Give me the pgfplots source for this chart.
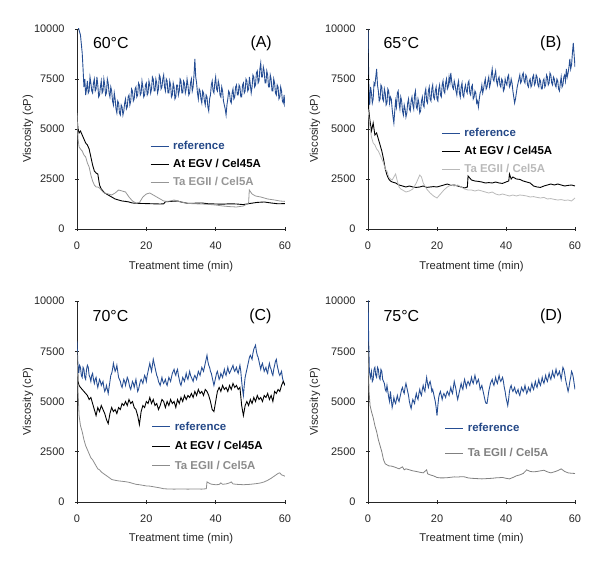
\documentclass[border=0pt]{standalone}
\usepackage{pgfplots}
\pgfplotsset{compat=1.18}
\usepackage{fontspec}
\setmainfont{Liberation Sans}
\definecolor{refblue}{RGB}{38,78,148}
\definecolor{reftext}{RGB}{36,72,135}
\definecolor{grayA}{RGB}{150,150,150}
\definecolor{grayB}{RGB}{185,185,185}
\definecolor{grayC}{RGB}{140,140,140}
\definecolor{grayD}{RGB}{128,128,128}
\pgfplotsset{
  myax/.style={
    scale only axis, width=208bp, height=200bp,
    xmin=0, xmax=60, ymin=0, ymax=10000,
    axis lines=left, axis line style={-, black!85, line width=0.6pt},
    xtick={0,20,40,60}, ytick={0,2500,5000,7500,10000},
    tick align=center, major tick length=4bp, tick style={black!85, line width=0.6pt},
    scaled y ticks=false,
    /pgf/number format/fixed, /pgf/number format/1000 sep={},
    /pgf/number format/assume math mode=true,
    ticklabel style={font=\fontsize{11}{13}\selectfont, text=black!85},
    xticklabel shift=7bp,
    yticklabel shift=7bp,
    label style={font=\fontsize{11.3}{13}\selectfont, text=black!85},
    xlabel={Treatment time (min)}, ylabel={Viscosity (cP)},
    legend style={draw=none, fill=none, inner sep=0pt, outer sep=0pt,
      font=\bfseries\fontsize{11.5}{13}\selectfont,
      nodes={inner sep=0pt, text height=8.5bp, text depth=2.5bp},
      cells={anchor=west}, column sep=4bp},
    legend image code/.code={\draw[#1] (0bp,0.5bp) -- (18bp,0.5bp);},
    legend cell align=left,
  },
  toprow/.style={xlabel style={at={(axis description cs:0.5,-0.19)}, anchor=center}},
  botrow/.style={xlabel style={at={(axis description cs:0.5,-0.18)}, anchor=center}},
  leftcol/.style={ylabel style={at={(axis description cs:-0.236,0.5)}, anchor=center}},
  rightcol/.style={ylabel style={at={(axis description cs:-0.256,0.5)}, anchor=center}},
  refl/.style={refblue, line width=0.9pt},
  egvl/.style={black, line width=0.9pt},
}
\begin{document}
\begin{tikzpicture}
\useasboundingbox (0,0) rectangle (600bp,570bp);
% ---------------- Panel A ----------------
\begin{axis}[myax, toprow, leftcol, at={(77bp,341bp)}, anchor=south west,
  legend style={at={(axis cs:21.1,4400)}, anchor=north west, row sep=7bp}]
\addplot[refl] coordinates {(0,10500)(0.5,10000)(1,9700)(1.5,8800)(1.75,8000)(2,7100)(2.25,7500)(2.5,6700)(2.75,7000)(3,7400)(3.25,6800)(3.5,6900)(3.75,7600)(4,7300)(4.25,6900)(4.5,6800)(4.75,7300)(5,7500)(5.25,6900)(5.5,7000)(5.75,7600)(6,7200)(6.25,6600)(6.5,6700)(6.75,7100)(7,7400)(7.25,6800)(7.5,6900)(7.75,7500)(8,7200)(8.25,6700)(8.5,6800)(8.75,7500)(9,7300)(9.25,6800)(9.5,6600)(9.75,7100)(10,6900)(10.25,6400)(10.5,6200)(10.75,6800)(11,6500)(11.25,6000)(11.5,5800)(11.75,6400)(12,6300)(12.25,5800)(12.5,5700)(12.75,6200)(13,6100)(13.25,5700)(13.5,5900)(13.75,6300)(14,6500)(14.25,6000)(14.5,6100)(14.75,6600)(15,6700)(15.25,6200)(15.5,6400)(15.75,7000)(16,6900)(16.25,6400)(16.5,6500)(16.75,7000)(17,7100)(17.25,6600)(17.5,6700)(17.75,7300)(18,7200)(18.25,6700)(18.5,6800)(18.75,7400)(19,7100)(19.25,6600)(19.5,6700)(19.75,7200)(20,7300)(20.25,6700)(20.5,6800)(20.75,7400)(21,7200)(21.25,6800)(21.5,7000)(21.75,7600)(22,7500)(22.25,6900)(22.5,6900)(22.75,7500)(23,7300)(23.25,6800)(23.5,7000)(23.75,7700)(24,7600)(24.25,7000)(24.5,7100)(24.75,7500)(25,7700)(25.25,7100)(25.5,6900)(25.75,7500)(26,7400)(26.25,6800)(26.5,6800)(26.75,7400)(27,7200)(27.25,6600)(27.5,6700)(27.75,7300)(28,7100)(28.25,6500)(28.5,6600)(28.75,7200)(29,7200)(29.25,6700)(29.5,6900)(29.75,7500)(30,7400)(30.25,6800)(30.5,6800)(30.75,7400)(31,7300)(31.25,6800)(31.5,7000)(31.75,7500)(32,7200)(32.25,6700)(32.5,6800)(32.75,7300)(33,7500)(33.25,6900)(33.5,7100)(33.75,7700)(34,8500)(34.25,7600)(34.5,7300)(34.75,6800)(35,6500)(35.25,7000)(35.5,6900)(35.75,6500)(36,6300)(36.25,6900)(36.5,6800)(36.75,6400)(37,6200)(37.25,6700)(37.5,6600)(37.75,6100)(38,5900)(38.25,6500)(38.5,6700)(38.75,7200)(39,7400)(39.25,6900)(39.5,6800)(39.75,7300)(40,7600)(40.25,7000)(40.5,6900)(40.75,7400)(41,7200)(41.25,6700)(41.5,6600)(41.75,7100)(42,6900)(42.25,6400)(42.5,6200)(42.75,6000)(43,5700)(43.25,6200)(43.5,6500)(43.75,6900)(44,6800)(44.25,6400)(44.5,6300)(44.75,6800)(45,7000)(45.25,6500)(45.5,6600)(45.75,7100)(46,7200)(46.25,6700)(46.5,6700)(46.75,7200)(47,7100)(47.25,6600)(47.5,6600)(47.75,7200)(48,7300)(48.25,6800)(48.5,6900)(48.75,7500)(49,7400)(49.25,6900)(49.5,7000)(49.75,7600)(50,7200)(50.25,6800)(50.5,7100)(50.75,7700)(51,7600)(51.25,7100)(51.5,7200)(51.75,7800)(52,7900)(52.25,7300)(52.5,7400)(52.75,8000)(53,8300)(53.25,7600)(53.5,7600)(53.75,8100)(54,7900)(54.25,7300)(54.5,7300)(54.75,7900)(55,7700)(55.25,7100)(55.5,7100)(55.75,7700)(56,7500)(56.25,6900)(56.5,6900)(56.75,7500)(57,7300)(57.25,6800)(57.5,6700)(57.75,7200)(58,7100)(58.25,6500)(58.5,6600)(58.75,7100)(59,6900)(59.25,6400)(59.5,6300)(59.75,6700)(60,6100)};
\addlegendentry{\textcolor{reftext}{reference}}
\addplot[egvl] coordinates {(0,5600)(0.3,5000)(0.6,4800)(1,4900)(1.5,4700)(2,4500)(2.5,4300)(3,4200)(3.5,4000)(4,3600)(4.5,3200)(5,2900)(5.5,2800)(6,2750)(6.5,2200)(7,2000)(7.5,1900)(8,1800)(9,1700)(10,1600)(11,1500)(12,1450)(13,1400)(14,1380)(15,1350)(16,1300)(18,1280)(20,1270)(22,1260)(24,1250)(25,1260)(25.5,1360)(27,1380)(29,1400)(30,1350)(32,1280)(34,1290)(36,1300)(38,1260)(40,1250)(42,1240)(44,1260)(46,1250)(48,1220)(50,1280)(52,1330)(54,1350)(56,1300)(58,1260)(60,1270)};
\addlegendentry{At EGV / Cel45A}
\addplot[grayA, line width=0.8pt] coordinates {(0,5800)(0.3,4500)(0.6,4100)(1,4000)(1.5,3900)(2,3700)(2.5,3600)(3,3300)(3.5,3100)(4,2700)(4.5,2400)(5,2200)(5.5,2100)(6,2100)(6.5,2050)(7,1950)(7.5,1850)(8,1800)(9,1750)(10,1700)(11,1800)(12,1950)(13,1900)(14,1850)(15,1600)(16,1400)(17,1300)(18,1320)(19,1600)(20,1750)(21,1800)(22,1700)(23,1600)(24,1500)(25,1400)(26,1380)(27,1400)(28,1450)(29,1400)(30,1350)(32,1280)(34,1260)(36,1250)(38,1230)(40,1200)(42,1150)(44,1120)(46,1100)(48,1150)(49.5,1300)(49.7,1950)(50.5,1750)(51.5,1650)(53,1600)(55,1500)(57,1450)(58.5,1400)(60,1380)};
\addlegendentry{\textcolor{grayA}{Ta EGII / Cel5A}}
\node[anchor=west, font=\fontsize{16}{18}\selectfont] at (axis cs:3.6,9300) {60°C};
\node[anchor=east, font=\fontsize{16}{18}\selectfont] at (axis cs:57.2,9300) {(A)};
\end{axis}
% ---------------- Panel B ----------------
\begin{axis}[myax, toprow, rightcol, width=207bp, at={(368bp,341bp)}, anchor=south west,
  legend style={at={(axis cs:21.3,5050)}, anchor=north west, row sep=7bp}]
\addplot[refl] coordinates {(0,10000)(0.25,7000)(0.5,6200)(0.75,7100)(1,6800)(1.25,6300)(1.5,6500)(1.75,7300)(2,7200)(2.25,7600)(2.5,8000)(2.75,7200)(3,6900)(3.25,6400)(3.5,6500)(3.75,7200)(4,7100)(4.25,6500)(4.5,6400)(4.75,7000)(5,6800)(5.25,6200)(5.5,6300)(5.75,7000)(6,6900)(6.25,6300)(6.5,6600)(6.75,6500)(7,6000)(7.25,5600)(7.5,5300)(7.75,5900)(8,6400)(8.25,6100)(8.5,6800)(8.75,6900)(9,6300)(9.25,6000)(9.5,6600)(9.75,6400)(10,5900)(10.25,5700)(10.5,6200)(10.75,6000)(11,5600)(11.25,5800)(11.5,6300)(11.75,6500)(12,6000)(12.25,5900)(12.5,6400)(12.75,6600)(13,6200)(13.25,6000)(13.5,6700)(13.75,6900)(14,6100)(14.25,6000)(14.5,6500)(14.75,6300)(15,5800)(15.25,5900)(15.5,6400)(15.75,6600)(16,6200)(16.25,6100)(16.5,6800)(16.75,7000)(17,6400)(17.25,6300)(17.5,6900)(17.75,7100)(18,6500)(18.25,6400)(18.5,7000)(18.75,7200)(19,6600)(19.25,6500)(19.5,6900)(19.75,7100)(20,6500)(20.25,6400)(20.5,7000)(20.75,7200)(21,6700)(21.25,6600)(21.5,7200)(21.75,7400)(22,6900)(22.25,6800)(22.5,7300)(22.75,7500)(23,7000)(23.25,7100)(23.5,7600)(23.75,7300)(24,7800)(24.25,7400)(24.5,7100)(24.75,7000)(25,7400)(25.25,7200)(25.5,6900)(25.75,6700)(26,7200)(26.25,7400)(26.5,6800)(26.75,6600)(27,7100)(27.25,7300)(27.5,6700)(27.75,6600)(28,7000)(28.25,7200)(28.5,6900)(28.75,6800)(29,7300)(29.25,7400)(29.5,6800)(29.75,6700)(30,7100)(30.25,7200)(30.5,6500)(30.75,6600)(31,6900)(31.25,6800)(31.5,6300)(31.75,6400)(32,6100)(32.25,6500)(32.5,6800)(32.75,6900)(33,7200)(33.25,6800)(33.5,7000)(33.75,7300)(34,7500)(34.25,7000)(34.5,7100)(34.75,7400)(35,7600)(35.25,7100)(35.5,7300)(35.75,7700)(36,8000)(36.25,7500)(36.5,7400)(36.75,7700)(37,7900)(37.25,7400)(37.5,7200)(37.75,7500)(38,7600)(38.25,7200)(38.5,7100)(38.75,7500)(39,7400)(39.25,6900)(39.5,7000)(39.75,7500)(40,7300)(40.25,7200)(40.5,7600)(40.75,7700)(41,7100)(41.25,7200)(41.5,7500)(41.75,7300)(42,6900)(42.25,6600)(42.5,6300)(42.75,6500)(43,6800)(43.25,7100)(43.5,7300)(43.75,7500)(44,7700)(44.25,7300)(44.5,7400)(44.75,7700)(45,7800)(45.25,7400)(45.5,7300)(45.75,7700)(46,7600)(46.25,7200)(46.5,7100)(46.75,7400)(47,7500)(47.25,7100)(47.5,7200)(47.75,7600)(48,7700)(48.25,7200)(48.5,7300)(48.75,7700)(49,7600)(49.25,7200)(49.5,7100)(49.75,7500)(50,7400)(50.25,7000)(50.5,7000)(50.75,7400)(51,7500)(51.25,7100)(51.5,7200)(51.75,7700)(52,7600)(52.25,7200)(52.5,7300)(52.75,7800)(53,7700)(53.25,7300)(53.5,7200)(53.75,7600)(54,7500)(54.25,7200)(54.5,7100)(54.75,7500)(55,7400)(55.25,7000)(55.5,6900)(55.75,7300)(56,7600)(56.25,7100)(56.5,7200)(56.75,7600)(57,7700)(57.25,7400)(57.5,8000)(57.75,7600)(58,7800)(58.25,8100)(58.5,8500)(58.75,8000)(59,8200)(59.25,8800)(59.5,9300)(59.75,8700)(60,8100)};
\addlegendentry{\textcolor{reftext}{reference}}
\addplot[egvl] coordinates {(0,9000)(0.2,6000)(0.5,5500)(1,4900)(1.5,5300)(2,4700)(2.5,4800)(3,4500)(3.5,4200)(4,3900)(4.5,3500)(5,3000)(5.5,2700)(6,2500)(6.5,2400)(7,2350)(8,2300)(9,2200)(10,2150)(11,2100)(12,2150)(13,2100)(14,2080)(15,2100)(16,2150)(17,2080)(18,2100)(19,2120)(20,2100)(21,2150)(22,2200)(23,2250)(24,2180)(25,2200)(26,2150)(27,2100)(28,2050)(28.8,2100)(29,2650)(30,2450)(31,2400)(32,2380)(33,2350)(34,2300)(35,2320)(36,2300)(37,2350)(38,2300)(39,2280)(40,2350)(40.8,2400)(41,2750)(41.5,2500)(42,2600)(43,2500)(44,2480)(45,2400)(46,2350)(47,2300)(48,2150)(49,2100)(50,2080)(51,2150)(52,2200)(53,2250)(54,2200)(55,2250)(56,2200)(57,2150)(58,2180)(59,2200)(60,2150)};
\addlegendentry{At EGV / Cel45A}
\addplot[grayB, line width=0.8pt] coordinates {(0,6000)(0.5,5200)(1,4600)(1.5,4300)(2,4200)(2.5,4000)(3,3900)(3.5,3700)(4,3500)(4.5,3300)(5,3000)(5.5,2900)(6,2600)(6.5,2500)(7,2450)(7.5,2600)(8,2750)(8.5,2400)(9,2100)(9.5,2000)(10,1950)(11,1850)(12,1900)(13,2000)(14,2300)(15,2700)(15.5,2600)(16,2300)(17,2000)(18,1800)(19,1650)(20,1550)(21,1750)(22,1950)(23,2100)(24,2200)(25,2150)(26,2200)(27,2100)(28,2000)(29,1950)(30,1950)(31,1900)(32,1950)(33,1900)(34,1850)(35,1800)(36,1850)(37,1750)(38,1700)(39,1750)(40,1700)(41,1650)(42,1700)(43,1650)(44,1700)(45,1680)(46,1650)(47,1600)(48,1620)(49,1580)(50,1550)(51,1580)(52,1500)(53,1520)(54,1480)(55,1450)(56,1470)(57,1430)(58,1450)(59,1400)(60,1550)};
\addlegendentry{\textcolor{grayB}{Ta EGII / Cel5A}}
\node[anchor=west, font=\fontsize{16}{18}\selectfont] at (axis cs:3.5,9300) {65°C};
\node[anchor=east, font=\fontsize{16}{18}\selectfont] at (axis cs:57.1,9300) {(B)};
\end{axis}
% ---------------- Panel C ----------------
\begin{axis}[myax, botrow, leftcol, height=201bp, at={(77bp,68bp)}, anchor=south west,
  legend style={at={(axis cs:21.6,4000)}, anchor=north west, row sep=8.5bp}]
\addplot[refl] coordinates {(0,8000)(0.25,6900)(0.5,6400)(0.75,6800)(1,6700)(1.25,6300)(1.5,6200)(1.75,6700)(2,6600)(2.25,6200)(2.5,6100)(2.75,6600)(3,6800)(3.25,6700)(3.5,6300)(3.75,6200)(4,6000)(4.25,6300)(4.5,6400)(4.75,6100)(5,5900)(5.25,6100)(5.5,6200)(5.75,5900)(6,5700)(6.25,5900)(6.5,6100)(6.75,6000)(7,5800)(7.25,5900)(7.5,6000)(7.75,5700)(8,5500)(8.25,5600)(8.5,5800)(8.75,5600)(9,5400)(9.25,5700)(9.5,6000)(9.75,6300)(10,6400)(10.25,6600)(10.5,6900)(10.75,6700)(11,6500)(11.25,6600)(11.5,6800)(11.75,6500)(12,6200)(12.25,6100)(12.5,6000)(12.75,5800)(13,5700)(13.25,5900)(13.5,6100)(13.75,6000)(14,5800)(14.25,6000)(14.5,6200)(14.75,6100)(15,5900)(15.25,5700)(15.5,5600)(15.75,5800)(16,6000)(16.25,5900)(16.5,5700)(16.75,5900)(17,6100)(17.25,5800)(17.5,5500)(17.75,5600)(18,5800)(18.25,6000)(18.5,6100)(18.75,6000)(19,5900)(19.25,6100)(19.5,6300)(19.75,6200)(20,6000)(20.25,6300)(20.5,6500)(20.75,6700)(21,6900)(21.25,6700)(21.5,6500)(21.75,6800)(22,7100)(22.25,6900)(22.5,6700)(22.75,6500)(23,6300)(23.25,6200)(23.5,6000)(23.75,5900)(24,5800)(24.25,6000)(24.5,6200)(24.75,6000)(25,5900)(25.25,6000)(25.5,6100)(25.75,5900)(26,5800)(26.25,6000)(26.5,6200)(26.75,6100)(27,6000)(27.25,6200)(27.5,6400)(27.75,6500)(28,6600)(28.25,6400)(28.5,6300)(28.75,6500)(29,6600)(29.25,6300)(29.5,6100)(29.75,5900)(30,5800)(30.25,6000)(30.5,6200)(30.75,6100)(31,6000)(31.25,6200)(31.5,6400)(31.75,6200)(32,6100)(32.25,6300)(32.5,6500)(32.75,6300)(33,6200)(33.25,6100)(33.5,6000)(33.75,6200)(34,6300)(34.25,6200)(34.5,6100)(34.75,6300)(35,6500)(35.25,6400)(35.5,6300)(35.75,6500)(36,6700)(36.25,6600)(36.5,6500)(36.75,6700)(37,6900)(37.25,7100)(37.5,7300)(37.75,7000)(38,6800)(38.25,6700)(38.5,6500)(38.75,6400)(39,6200)(39.25,6000)(39.5,5800)(39.75,6000)(40,6200)(40.25,6400)(40.5,6500)(40.75,6300)(41,6100)(41.25,6200)(41.5,6400)(41.75,6300)(42,6200)(42.25,6400)(42.5,6600)(42.75,6400)(43,6300)(43.25,6500)(43.5,6700)(43.75,6500)(44,6400)(44.25,6500)(44.5,6600)(44.75,6700)(45,6800)(45.25,6600)(45.5,6500)(45.75,6600)(46,6700)(46.25,6500)(46.5,6400)(46.75,6600)(47,6800)(47.25,6500)(47.5,6000)(47.75,5600)(48,5300)(48.25,5800)(48.5,6200)(48.75,6400)(49,6600)(49.25,6800)(49.5,7000)(49.75,7200)(50,7300)(50.25,7200)(50.5,7100)(50.75,7400)(51,7600)(51.25,7700)(51.5,7800)(51.75,7500)(52,7300)(52.25,7200)(52.5,7000)(52.75,6800)(53,6600)(53.25,6800)(53.5,6900)(53.75,6700)(54,6500)(54.25,6600)(54.5,6700)(54.75,6500)(55,6400)(55.25,6700)(55.5,6900)(55.75,6700)(56,6600)(56.25,6400)(56.5,6300)(56.75,6600)(57,6800)(57.25,7000)(57.5,7100)(57.75,6800)(58,6600)(58.25,6400)(58.5,6300)(58.75,6400)(59,6500)(59.25,6200)(59.5,6000)(59.75,5900)(60,5800)};
\addlegendentry{\textcolor{reftext}{reference}}
\addplot[egvl] coordinates {(0,7500)(0.3,6000)(0.6,5800)(1,5700)(1.5,5600)(2,5500)(2.5,5400)(3,5300)(3.5,5100)(4,5200)(4.5,4900)(5,4600)(5.5,4300)(6,4700)(6.5,4500)(7,4800)(7.5,4600)(8,4400)(8.5,4100)(9,3900)(9.5,4400)(10,4700)(10.5,4500)(11,4600)(11.5,4400)(12,4700)(12.5,4600)(13,4900)(13.5,4800)(14,5000)(14.5,4800)(15,5100)(15.5,4900)(16,5000)(16.5,4700)(17,4600)(17.5,4300)(18,3850)(18.5,4500)(19,4800)(19.5,4700)(20,5000)(20.5,4900)(21,5200)(21.5,4900)(22,5100)(22.5,4800)(23,4900)(23.5,4600)(24,4800)(24.5,5100)(25,5000)(25.5,4700)(26,5000)(26.5,4800)(27,5100)(27.5,4900)(28,5000)(28.5,4700)(29,5100)(29.5,4900)(30,5200)(30.5,5000)(31,5300)(31.5,5100)(32,5300)(32.5,5200)(33,5400)(33.5,5200)(34,5500)(34.5,5300)(35,5600)(35.5,5400)(36,5500)(36.5,5300)(37,5600)(37.5,5500)(38,5300)(38.5,5000)(39,4600)(39.5,4500)(40,5000)(40.5,5500)(41,5700)(41.5,5500)(42,5800)(42.5,5600)(43,5700)(43.5,5500)(44,5800)(44.5,5600)(45,5900)(45.5,5700)(46,5800)(46.5,5600)(47,5700)(47.5,4800)(48,4300)(48.5,4800)(49,5000)(49.5,4800)(50,5100)(50.5,4900)(51,5200)(51.5,5000)(52,5300)(52.5,5100)(53,5200)(53.5,5000)(54,5300)(54.5,5200)(55,5400)(55.5,5100)(56,5300)(56.5,5000)(57,5500)(57.5,5400)(58,5600)(58.5,5500)(59,5800)(59.5,6000)(60,5800)};
\addlegendentry{At EGV / Cel45A}
\addplot[grayC, line width=0.8pt] coordinates {(0,7500)(0.3,5500)(0.6,4300)(1,3800)(1.5,3500)(2,3100)(2.5,2800)(3,2600)(3.5,2400)(4,2200)(4.5,2100)(5,1950)(5.5,1800)(6,1650)(6.5,1600)(7,1500)(7.5,1430)(8,1370)(9,1250)(10,1120)(11,1080)(12,1050)(13,1030)(14,1010)(15,980)(16,930)(17,880)(18,860)(19,830)(20,800)(21,790)(22,760)(23,730)(24,700)(25,660)(26,650)(28,640)(30,650)(32,640)(34,650)(36,640)(37.3,660)(37.5,1000)(38,950)(38.5,900)(39,880)(40,860)(41,870)(41.5,950)(42,880)(43,900)(44,950)(44.5,1000)(45,900)(46,880)(47,870)(48,860)(49,870)(50,880)(51,900)(52,920)(53,950)(54,1000)(55,1080)(56,1180)(57,1300)(58,1420)(58.5,1450)(59,1350)(59.5,1320)(60,1280)};
\addlegendentry{\textcolor{grayC}{Ta EGII / Cel5A}}
\node[anchor=west, font=\fontsize{16}{18}\selectfont] at (axis cs:3.5,9250) {70°C};
\node[anchor=east, font=\fontsize{16}{18}\selectfont] at (axis cs:57.1,9250) {(C)};
\end{axis}
% ---------------- Panel D ----------------
\begin{axis}[myax, botrow, rightcol, width=207bp, height=201bp, at={(368bp,68bp)}, anchor=south west,
  legend style={at={(axis cs:22.3,3930)}, anchor=north west, row sep=14bp}]
\addplot[refl] coordinates {(0,10500)(0.2,8000)(0.4,6500)(0.7,6200)(1,6500)(1.25,6000)(1.5,6100)(1.75,6600)(2,6700)(2.25,6300)(2.5,6200)(2.75,6700)(3,6600)(3.25,6200)(3.5,6100)(3.75,6600)(4,6500)(4.25,6100)(4.5,6000)(4.75,5900)(5,5600)(5.25,5500)(5.5,5800)(5.75,5500)(6,5200)(6.25,5000)(6.5,5500)(6.75,5100)(7,4700)(7.25,4900)(7.5,5200)(7.75,5000)(8,4900)(8.25,5100)(8.5,5300)(8.75,5100)(9,5000)(9.25,5200)(9.5,5400)(9.75,5600)(10,5700)(10.25,5500)(10.5,5400)(10.75,5700)(11,5900)(11.25,5700)(11.5,5500)(11.75,5300)(12,5000)(12.25,4800)(12.5,4650)(12.75,4900)(13,5100)(13.25,5000)(13.5,4900)(13.75,5200)(14,5400)(14.25,5200)(14.5,5100)(14.75,5400)(15,5600)(15.25,5400)(15.5,5300)(15.75,5600)(16,5800)(16.25,5600)(16.5,5500)(16.75,5900)(17,6200)(17.25,5900)(17.5,5700)(17.75,5900)(18,6000)(18.25,5800)(18.5,5500)(18.75,5600)(19,5400)(19.25,5200)(19.5,5000)(19.75,4700)(20,4300)(20.25,4800)(20.5,5200)(20.75,5400)(21,5500)(21.25,5300)(21.5,5100)(21.75,5300)(22,5400)(22.25,5300)(22.5,5200)(22.75,5400)(23,5500)(23.25,5400)(23.5,5300)(23.75,5500)(24,5700)(24.25,5500)(24.5,5400)(24.75,5700)(25,6000)(25.25,5800)(25.5,5600)(25.75,5300)(26,5100)(26.25,5300)(26.5,5500)(26.75,5700)(27,5900)(27.25,5700)(27.5,5600)(27.75,5900)(28,6100)(28.25,5900)(28.5,5700)(28.75,5900)(29,6000)(29.25,5900)(29.5,5800)(29.75,6000)(30,6200)(30.25,6000)(30.5,5900)(30.75,6100)(31,6300)(31.25,6100)(31.5,5900)(31.75,6000)(32,6100)(32.25,5900)(32.5,5600)(32.75,5700)(33,5800)(33.25,5600)(33.5,5400)(33.75,5200)(34,5000)(34.25,4900)(34.5,4900)(34.75,5200)(35,5500)(35.25,5700)(35.5,5900)(35.75,6000)(36,6100)(36.25,5900)(36.5,5800)(36.75,6000)(37,6200)(37.25,6000)(37.5,5900)(37.75,6100)(38,6300)(38.25,6100)(38.5,6000)(38.75,6100)(39,6200)(39.25,6000)(39.5,5700)(39.75,5500)(40,5200)(40.25,5000)(40.5,4800)(40.75,5100)(41,5500)(41.25,5700)(41.5,5800)(41.75,5600)(42,5500)(42.25,5600)(42.5,5700)(42.75,5500)(43,5400)(43.25,5500)(43.5,5600)(43.75,5400)(44,5300)(44.25,5500)(44.5,5700)(44.75,5600)(45,5500)(45.25,5600)(45.5,5800)(45.75,5600)(46,5400)(46.25,5500)(46.5,5700)(46.75,5600)(47,5500)(47.25,5700)(47.5,5900)(47.75,5700)(48,5600)(48.25,5800)(48.5,6000)(48.75,5800)(49,5700)(49.25,5900)(49.5,6100)(49.75,5900)(50,5800)(50.25,6000)(50.5,6200)(50.75,6000)(51,5900)(51.25,6100)(51.5,6300)(51.75,6100)(52,6000)(52.25,6200)(52.5,6400)(52.75,6200)(53,6100)(53.25,6300)(53.5,6500)(53.75,6300)(54,6200)(54.25,6400)(54.5,6600)(54.75,6400)(55,6300)(55.25,6400)(55.5,6500)(55.75,6300)(56,6100)(56.25,6400)(56.5,6700)(56.75,6600)(57,6400)(57.25,6100)(57.5,5900)(57.75,5700)(58,5500)(58.25,5700)(58.5,6000)(58.75,6200)(59,6500)(59.25,6400)(59.5,6200)(59.75,5900)(60,5600)};
\addlegendentry{\textcolor{reftext}{reference}}
\addplot[grayD, line width=0.8pt] coordinates {(0,7600)(0.3,5500)(0.6,4800)(1,4500)(1.5,4200)(2,3800)(2.5,3500)(3,3100)(3.5,2800)(4,2500)(4.5,2100)(5,1900)(5.5,1850)(6,1800)(7,1780)(8,1720)(9,1650)(10,1750)(10.5,1600)(11,1650)(12,1600)(13,1550)(14,1520)(15,1480)(16,1450)(17,1600)(17.3,1400)(18,1350)(19,1300)(20,1220)(21,1200)(22,1200)(23,1210)(24,1230)(25,1250)(26,1240)(27,1260)(28,1250)(29,1200)(30,1180)(31,1170)(32,1160)(33,1150)(34,1160)(35,1170)(36,1180)(37,1200)(38,1210)(39,1220)(40,1180)(41,1150)(42,1220)(43,1300)(44,1350)(45,1420)(46,1600)(47,1520)(48,1500)(49,1520)(50,1550)(51,1580)(52,1500)(53,1450)(54,1500)(55,1560)(56,1650)(57,1520)(58,1450)(59,1430)(60,1420)};
\addlegendentry{\textcolor{grayD}{Ta EGII / Cel5A}}
\node[anchor=west, font=\fontsize{16}{18}\selectfont] at (axis cs:3.5,9250) {75°C};
\node[anchor=east, font=\fontsize{16}{18}\selectfont] at (axis cs:57.3,9250) {(D)};
\end{axis}
\end{tikzpicture}
\end{document}
